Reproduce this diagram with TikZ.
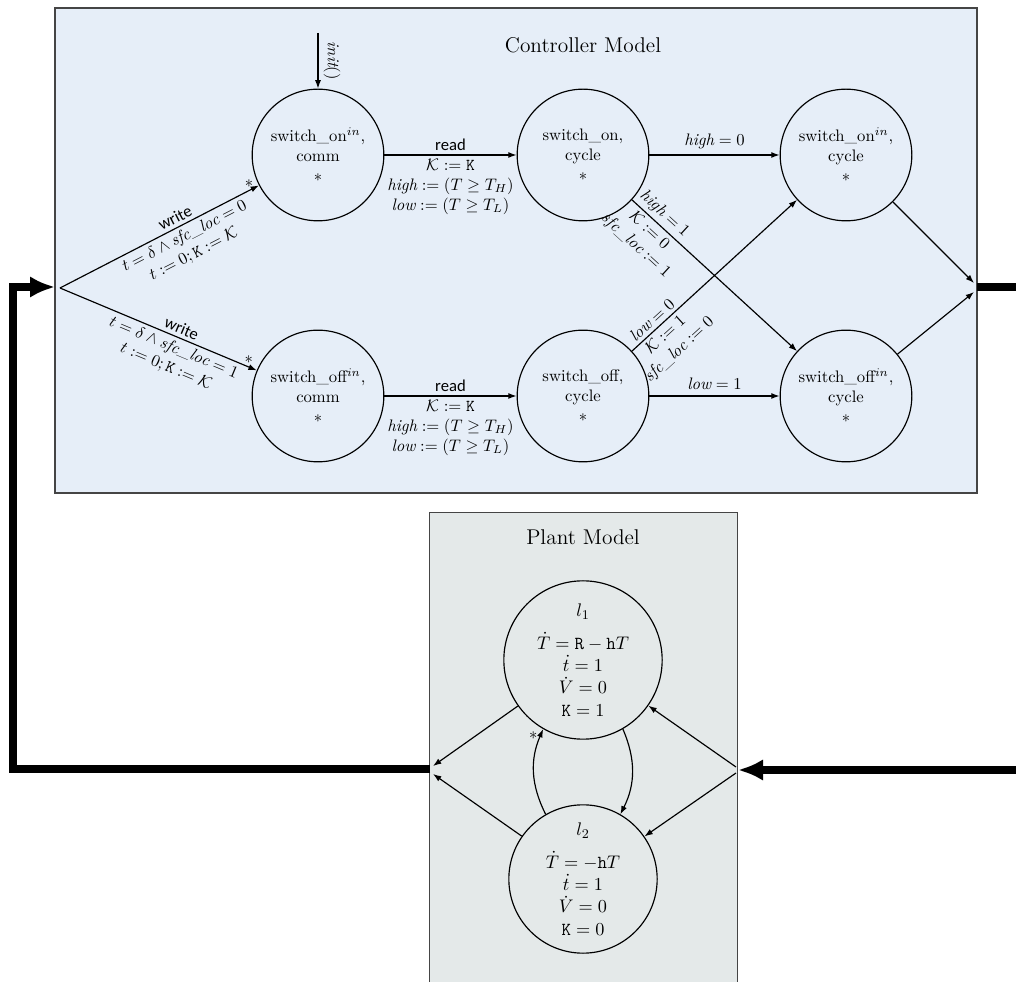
\documentclass[tikz,border=0pt]{standalone}
\usepackage{fontspec}
\newfontfamily\lblfont{Carlito}
\usetikzlibrary{arrows.meta}

\definecolor{ctrlfill}{HTML}{E6EEF8}
\definecolor{plantfill}{HTML}{E4E9E9}
\definecolor{framegray}{HTML}{454545}

\tikzset{
  state/.style={circle, draw, line width=0.7pt, minimum size=79pt, inner sep=0pt, align=center},
  pstate/.style={circle, draw, line width=0.7pt, inner sep=0pt, align=center,
                 font=\fontsize{11}{13.4}\selectfont},
  trans/.style={-{Latex[length=5pt,width=3.6pt]}, line width=0.7pt},
  bus/.style={line width=4.8pt},
  busarrow/.style={bus, -{Latex[length=15pt,width=13pt]}},
  ctrlbox/.style={draw=framegray, fill=ctrlfill, line width=0.8pt, inner sep=0pt},
  plantbox/.style={fill=plantfill, inner sep=0pt},
  frame/.style={draw=framegray, line width=0.8pt},
  title/.style={font=\fontsize{12.8}{15}\selectfont},
  lbl/.style={font=\lblfont, inner sep=2pt},
  eqs/.style={align=center, inner sep=2pt},
  star/.style={inner sep=1.5pt}
}

\begin{document}
\begin{tikzpicture}[x=0.6pt, y=-0.6pt]
\useasboundingbox (0,0) rectangle (1016,982);

% containers
\node[ctrlbox, minimum width=553.2pt, minimum height=291pt] (ctrl) at (516,250.5) {};
\node[title] (ctitle) at (583,45) {Controller Model};

\node[plantbox, minimum width=184.2pt, minimum height=281.4pt] (plant) at (583.5,747.5) {};
\draw[frame] (plant.south west) -- (plant.north west) -- (plant.north east) -- (plant.south east);
\node[title] (ptitle) at (583,537) {Plant Model};

% controller locations
\node[state] (oncomm)   at (318,155) {switch\_on$^{in}$,\\comm\\$*$};
\node[state] (oncyc)    at (583,155) {switch\_on,\\cycle\\$*$};
\node[state] (onincyc)  at (846,155) {switch\_on$^{in}$,\\cycle\\$*$};
\node[state] (offcomm)  at (318,396) {switch\_off$^{in}$,\\comm\\$*$};
\node[state] (offcyc)   at (583,396) {switch\_off,\\cycle\\$*$};
\node[state] (offincyc) at (846,396) {switch\_off$^{in}$,\\cycle\\$*$};

% plant locations
\node[pstate, minimum size=95pt] (l1) at (583,660)
  {$l_1$\\[6pt]$\dot T=\mathtt{R}-\mathtt{h}T$\\$\dot t=1$\\$\dot V=0$\\$\mathtt{K}=1$};
\node[pstate, minimum size=89pt] (l2) at (583,879)
  {$l_2$\\[6pt]$\dot T=-\mathtt{h}T$\\$\dot t=1$\\$\dot V=0$\\$\mathtt{K}=0$};

% ports and junctions
\coordinate (init)  at (318,33);
\coordinate (cin)   at (60,288);
\coordinate (cout1) at (974,283);
\coordinate (cout2) at (974,292);
\coordinate (cport) at (977,287);
\coordinate (cinport) at (55,287);
\coordinate (busR1) at (1016,287);
\coordinate (busR2) at (1016,770);
\coordinate (busL)  at (12.5,769);
\coordinate (pport) at (430,769);
\coordinate (pinport) at (738,770);
\coordinate (pout1) at (433,766);
\coordinate (pout2) at (433,774);
\coordinate (pin1)  at (736,767);
\coordinate (pin2)  at (736,773);

% controller transitions
\draw[trans] (init) -- (oncomm)
  node[midway, rotate=-90, anchor=south, inner sep=3pt] {$\mathit{init}()$};

\draw[trans] (cin) -- (oncomm)
  node[pos=0.6, sloped, above, lbl] {write}
  node[pos=0.6, sloped, below, eqs] {$t=\delta\wedge\mathit{sfc\_loc}=0$\\$t:=0;\mathtt{K}:=\mathcal{K}$}
  node[pos=0.95, above, star] {$*$};

\draw[trans] (cin) -- (offcomm)
  node[pos=0.6, sloped, above, lbl] {write}
  node[pos=0.6, sloped, below, eqs] {$t=\delta\wedge\mathit{sfc\_loc}=1$\\$t:=0;\mathtt{K}:=\mathcal{K}$}
  node[pos=0.96, above, star] {$*$};

\draw[trans] (oncomm) -- (oncyc)
  node[midway, above, lbl] {read}
  node[midway, below, eqs] {$\mathcal{K}:=\mathtt{K}$\\$\mathit{high}:=(T\geq T_H)$\\$\mathit{low}:=(T\geq T_L)$};

\draw[trans] (offcomm) -- (offcyc)
  node[midway, above, lbl] {read}
  node[midway, below, eqs] {$\mathcal{K}:=\mathtt{K}$\\$\mathit{high}:=(T\geq T_H)$\\$\mathit{low}:=(T\geq T_L)$};

\draw[trans] (oncyc) -- (onincyc) node[midway, above] {$\mathit{high}=0$};
\draw[trans] (offcyc) -- (offincyc) node[midway, above] {$\mathit{low}=1$};

\draw[trans] (oncyc) -- (offincyc)
  node[pos=0.15, sloped, above, inner sep=2pt] {$\mathit{high}=1$}
  node[pos=0.15, sloped, below, eqs] {$\mathcal{K}:=0$\\$\mathit{sfc\_loc}:=1$};

\draw[trans] (offcyc) -- (onincyc)
  node[pos=0.16, sloped, above, inner sep=2pt] {$\mathit{low}=0$}
  node[pos=0.16, sloped, below, eqs] {$\mathcal{K}:=1$\\$\mathit{sfc\_loc}:=0$};

\draw[trans] (onincyc) -- (cout1);
\draw[trans] (offincyc) -- (cout2);

% plant transitions
\draw[trans] (l1) -- (pout1);
\draw[trans] (l2) -- (pout2);
\draw[trans] (pin1) -- (l1);
\draw[trans] (pin2) -- (l2);
\draw[trans] (l1.-60) to[bend left=25] (l2.60);
\draw[trans] (l2.120) to[bend left=25] node[pos=0.93, left, star] {$*$} (l1.-120);

% connections between the two models
\draw[bus] (cport) -- (busR1);
\draw[busarrow] (busR2) -- (pinport);
\draw[busarrow] (pport) -- (busL) |- (cinport);
\end{tikzpicture}
\end{document}
